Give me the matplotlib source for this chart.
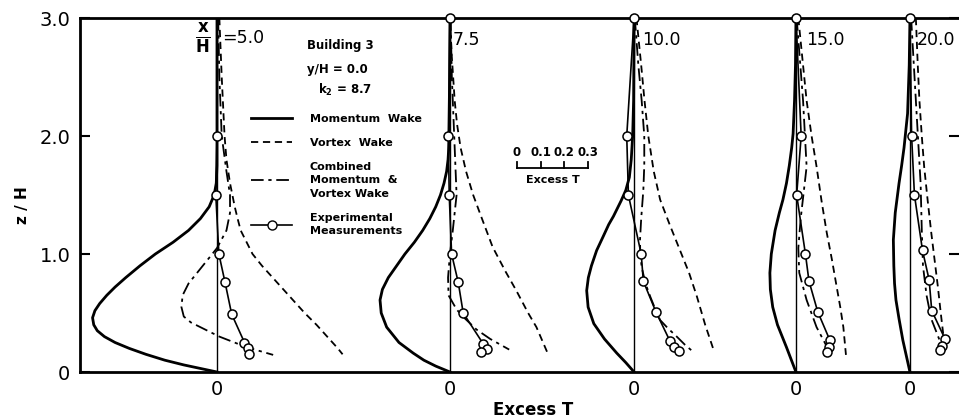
import matplotlib
matplotlib.use('Agg')
import matplotlib.pyplot as plt
from matplotlib.lines import Line2D

plt.rcParams['font.family'] = ['DejaVu Sans']

# ---------------- data (Excess T vs z/H at each station x/H) ----------------
stations = ['5.0', '7.5', '10.0', '15.0', '20.0']

mom_z = [
    [0, 0.03, 0.06, 0.1, 0.15, 0.2, 0.25, 0.3, 0.35, 0.4, 0.46, 0.52, 0.58, 0.65, 0.72, 0.8, 0.9,
     1.0, 1.1, 1.2, 1.3, 1.4, 1.5, 1.6, 1.75, 3.0],
    [0, 0.05, 0.1, 0.16, 0.25, 0.38, 0.5, 0.61, 0.7, 0.8, 0.9, 1.0, 1.1, 1.2, 1.3, 1.4, 1.5, 1.6,
     1.7, 1.8, 2.0, 3.0],
    [0, 0.08, 0.16, 0.28, 0.41, 0.55, 0.69, 0.8, 0.9, 1.03, 1.15, 1.25, 1.32, 1.45, 1.54, 1.65,
     1.8, 2.0, 2.3, 3.0],
    [0, 0.21, 0.4, 0.55, 0.7, 0.84, 1.0, 1.2, 1.35, 1.46, 1.6, 1.75, 1.9, 2.02, 2.3, 2.6, 3.0],
    [0, 0.27, 0.45, 0.61, 0.75, 0.9, 1.12, 1.35, 1.6, 1.75, 1.9, 2.19, 2.6, 3.0],
]
mom_T = [
    [0, -0.07, -0.14, -0.22, -0.30, -0.37, -0.43, -0.475, -0.505, -0.52, -0.525, -0.515, -0.495,
     -0.465, -0.43, -0.385, -0.325, -0.26, -0.185, -0.12, -0.07, -0.033, -0.012, -0.003, 0, 0],
    [0, -0.06, -0.11, -0.155, -0.215, -0.267, -0.29, -0.295, -0.285, -0.26, -0.225, -0.19, -0.15,
     -0.115, -0.085, -0.06, -0.04, -0.025, -0.014, -0.008, -0.002, 0],
    [0, -0.035, -0.073, -0.125, -0.17, -0.194, -0.2, -0.193, -0.18, -0.158, -0.13, -0.107, -0.087,
     -0.055, -0.035, -0.02, -0.012, -0.006, -0.002, 0],
    [0, -0.04, -0.078, -0.098, -0.108, -0.11, -0.104, -0.088, -0.07, -0.055, -0.04, -0.028, -0.018,
     -0.012, -0.006, -0.002, 0],
    [0, -0.03, -0.046, -0.059, -0.065, -0.068, -0.07, -0.062, -0.046, -0.035, -0.025, -0.01, -0.003, 0],
]

vor_z = [
    [3.0, 2.5, 2.0, 1.8, 1.6, 1.4, 1.3, 1.2, 1.1, 1.0, 0.9, 0.8, 0.7, 0.6, 0.5, 0.4, 0.3, 0.2, 0.15],
    [3.0, 2.7, 2.3, 2.1, 1.9, 1.7, 1.5, 1.3, 1.06, 0.85, 0.69, 0.5, 0.38, 0.17],
    [3.0, 2.6, 2.3, 2.0, 1.7, 1.46, 1.25, 1.03, 0.84, 0.64, 0.4, 0.19],
    [3.0, 2.6, 2.3, 2.0, 1.74, 1.45, 1.18, 0.95, 0.72, 0.55, 0.38, 0.145],
    [3.0, 2.6, 2.3, 2.0, 1.74, 1.45, 1.18, 0.95, 0.72, 0.5, 0.33, 0.25],
]
vor_T = [
    [0.01, 0.02, 0.032, 0.04, 0.055, 0.075, 0.087, 0.10, 0.125, 0.15, 0.19, 0.235, 0.28, 0.325,
     0.37, 0.42, 0.465, 0.51, 0.53],
    [0.0, 0.007, 0.02, 0.03, 0.045, 0.068, 0.098, 0.135, 0.18, 0.235, 0.28, 0.33, 0.365, 0.41],
    [0.01, 0.03, 0.044, 0.06, 0.083, 0.11, 0.15, 0.194, 0.232, 0.265, 0.30, 0.335],
    [0.01, 0.03, 0.045, 0.066, 0.087, 0.108, 0.13, 0.152, 0.172, 0.187, 0.2, 0.211],
    [0.025, 0.033, 0.04, 0.05, 0.06, 0.075, 0.09, 0.104, 0.118, 0.13, 0.14, 0.143],
]

com_z = [
    [3.0, 2.5, 2.0, 1.7, 1.5, 1.35, 1.2, 1.05, 0.95, 0.85, 0.75, 0.65, 0.55, 0.47, 0.42, 0.35, 0.3,
     0.21, 0.145],
    [3.0, 2.5, 1.9, 1.5, 1.2, 1.0, 0.8, 0.65, 0.53, 0.45, 0.36, 0.28, 0.19],
    [3.0, 2.6, 2.3, 2.0, 1.75, 1.54, 1.3, 1.12, 1.0, 0.89, 0.75, 0.64, 0.54, 0.44, 0.37, 0.30,
     0.23, 0.17],
    [3.0, 2.3, 1.74, 1.3, 1.05, 0.84, 0.61, 0.38, 0.19],
    [3.0, 2.3, 1.6, 1.2, 0.9, 0.65, 0.45, 0.27],
]
com_T = [
    [0.005, 0.01, 0.02, 0.04, 0.055, 0.055, 0.04, 0.0, -0.04, -0.08, -0.12, -0.145, -0.15, -0.14,
     -0.11, -0.04, 0.01, 0.125, 0.237],
    [0.003, 0.008, 0.02, 0.028, 0.012, 0.0, -0.008, -0.006, 0.028, 0.065, 0.112, 0.17, 0.25],
    [0.003, 0.018, 0.032, 0.043, 0.043, 0.039, 0.03, 0.025, 0.026, 0.032, 0.048, 0.068, 0.088,
     0.11, 0.143, 0.18, 0.215, 0.25],
    [0.003, 0.03, 0.045, 0.02, 0.01, 0.014, 0.045, 0.087, 0.137],
    [0.005, 0.025, 0.045, 0.05, 0.055, 0.07, 0.09, 0.125],
]

exp_z = [
    [2.0, 1.5, 1.0, 0.76, 0.49, 0.25, 0.20, 0.15],
    [3.0, 2.0, 1.5, 1.0, 0.76, 0.5, 0.24, 0.195, 0.17],
    [3.0, 2.0, 1.5, 1.0, 0.77, 0.51, 0.26, 0.21, 0.18],
    [3.0, 2.0, 1.5, 1.0, 0.77, 0.51, 0.27, 0.21, 0.17],
    [3.0, 2.0, 1.5, 1.03, 0.78, 0.52, 0.28, 0.22, 0.19],
]
exp_T = [
    [0, -0.005, 0.008, 0.034, 0.062, 0.116, 0.13, 0.135],
    [0, -0.007, -0.003, 0.007, 0.035, 0.056, 0.14, 0.157, 0.133],
    [0, -0.031, -0.024, 0.03, 0.039, 0.092, 0.152, 0.169, 0.19],
    [0, 0.022, 0.003, 0.04, 0.055, 0.092, 0.143, 0.14, 0.132],
    [0, 0.007, 0.019, 0.053, 0.081, 0.092, 0.148, 0.134, 0.125],
]

scale_ticks = [0, 0.1, 0.2, 0.3]
scale_labels = ['0', '0.1', '0.2', '0.3']
ytick_vals = [0, 1, 2, 3]
ytick_labels = ['0', '1.0', '2.0', '3.0']

# ---------------- layout ----------------
offsets = [0.0, 0.983, 1.760, 2.443, 2.924]   # baseline of each profile (Excess T units)
scale_start = 1.266
scale_z = 1.73

W, H = 959, 420
fig = plt.figure(figsize=(W / 100, H / 100), dpi=100)
ax = fig.add_axes([80 / W, 48 / H, 879 / W, 354 / H])
ax.set_xlim(-0.578, 3.131)
ax.set_ylim(0, 3.0)

dash_v = (0, (4.0, 2.6))
dash_c = (0, (7.0, 2.6, 1.8, 2.6))

for i, off in enumerate(offsets):
    ax.plot([off, off], [0, 3.0], color='black', lw=1.0, zorder=2)
    ax.plot([off + t for t in mom_T[i]], mom_z[i], color='black', lw=2.0, zorder=3,
            solid_joinstyle='round')
    ax.plot([off + t for t in vor_T[i]], vor_z[i], color='black', lw=1.3,
            linestyle=dash_v, zorder=3)
    ax.plot([off + t for t in com_T[i]], com_z[i], color='black', lw=1.3,
            linestyle=dash_c, zorder=3)
    ax.plot([off + t for t in exp_T[i]], exp_z[i], color='black', lw=1.2,
            marker='o', ms=6.5, mfc='white', mec='black', mew=1.1, zorder=4,
            clip_on=False)

# scale bar
sx = [scale_start + s for s in scale_ticks]
ax.plot([sx[0], sx[-1]], [scale_z, scale_z], color='black', lw=1.3)
for xx, lab in zip(sx, scale_labels):
    ax.plot([xx, xx], [scale_z, scale_z + 0.05], color='black', lw=1.3)
    ax.text(xx, scale_z + 0.13, lab, ha='center', va='center', fontsize=8.5,
            fontweight='bold')
ax.text((sx[0] + sx[-1]) / 2, scale_z - 0.1, 'Excess T', ha='center', va='center',
        fontsize=8, fontweight='bold')

# axes styling
for side in ['left', 'top', 'bottom']:
    ax.spines[side].set_linewidth(2.0)
ax.spines['right'].set_visible(False)
ax.set_xticks(offsets)
ax.set_xticklabels(['0'] * len(offsets), fontsize=14)
ax.tick_params(axis='x', length=0, pad=6)
ax.set_yticks(ytick_vals)
ax.set_yticklabels(ytick_labels, fontsize=14)
ax.tick_params(axis='y', direction='in', length=7, width=1.5, pad=7, right=True)

fig.text(22 / W, 1 - 205 / H, 'z / H', rotation=90, ha='center', va='center',
         fontsize=11, fontweight='bold')
fig.text(533 / W, 1 - 410 / H, 'Excess T', ha='center', va='center',
         fontsize=12, fontweight='bold')

# station labels
fig.text(203 / W, 1 - 39 / H, r'$\mathbf{\frac{x}{H}}$', ha='center', va='center', fontsize=17)
fig.text(222 / W, 1 - 38 / H, '=' + stations[0], ha='left', va='center', fontsize=12.5)
label_x = [None, 453, 642, 806, 917]
for lx, st in zip(label_x[1:], stations[1:]):
    fig.text(lx / W, 1 - 40 / H, st, ha='left', va='center', fontsize=12.5)

# annotation block
fig.text(307 / W, 1 - 45 / H, 'Building 3', ha='left', va='center', fontsize=8.5, fontweight='bold')
fig.text(307 / W, 1 - 70 / H, 'y/H = 0.0', ha='left', va='center', fontsize=8.5, fontweight='bold')
fig.text(318 / W, 1 - 90 / H, r'k$_\mathbf{2}$ = 8.7', ha='left', va='center', fontsize=8.5, fontweight='bold')

handles = [
    Line2D([], [], color='black', lw=2.0),
    Line2D([], [], color='black', lw=1.3, linestyle=dash_v),
    Line2D([], [], color='black', lw=1.3, linestyle=dash_c),
    Line2D([], [], color='black', lw=1.2, marker='o', ms=6.5, mfc='white', mec='black'),
]
labels = ['Momentum  Wake', 'Vortex  Wake', 'Combined\nMomentum  &\nVortex Wake',
          'Experimental\nMeasurements']
leg = ax.legend(handles, labels, loc='upper left', bbox_to_anchor=(251 / W, 1 - 114 / H),
                bbox_transform=fig.transFigure, frameon=False, numpoints=1,
                handlelength=3.7, handletextpad=1.6, borderpad=0, borderaxespad=0,
                labelspacing=1.25, prop={'size': 8, 'weight': 'bold'})
for t in leg.get_texts():
    t.set_linespacing(1.45)

fig.savefig('out.png', dpi=100)
